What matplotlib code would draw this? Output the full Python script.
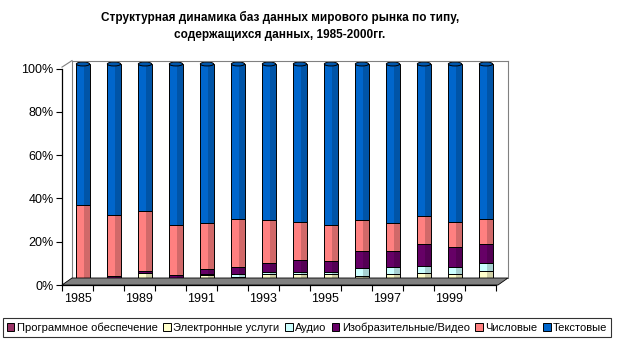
import matplotlib
matplotlib.use("Agg")
import matplotlib.pyplot as plt
from matplotlib.patches import Polygon, Ellipse, Patch
from matplotlib.lines import Line2D
import matplotlib.colors as mcolors
import numpy as np

plt.rcParams['font.family'] = ['Liberation Sans', 'DejaVu Sans']

years = ['1985', '1988', '1989', '1990', '1991', '1992', '1993', '1994',
         '1995', '1996', '1997', '1998', '1999', '2000']
series_names = ['Программное обеспечение', 'Электронные услуги', 'Аудио',
                'Изобразительные/Видео', 'Числовые', 'Текстовые']
prog = [0, 0.2, 0.2, 0.2, 0.9, 0.8, 0.2, 0.3, 1.0, 0.7, 0.8, 1.1, 0.4, 1.1]
elec = [0, 2.0, 4.3, 1.9, 2.4, 1.85, 3.7, 3.45, 2.9, 2.4, 2.95, 3.4, 3.35, 4.3]
audio = [0, 0, 0, 0, 0.7, 1.1, 1.0, 1.15, 1.0, 3.4, 3.25, 3.1, 3.25, 3.7]
video = [0, 0.8, 0.9, 1.2, 2.0, 3.45, 4.2, 5.4, 5.1, 7.9, 7.4, 10.0, 9.4, 8.5]
numeric = [35.6, 28.0, 27.5, 23.2, 21.2, 21.9, 19.7, 17.6, 16.2, 14.1, 12.8, 12.7, 11.1, 11.5]
text = [64.4, 69.0, 67.1, 73.5, 72.8, 70.9, 71.2, 72.1, 73.8, 71.5, 72.8, 69.7, 72.5, 70.9]
colors = ['#993366', '#FFFFCC', '#CCFFFF', '#660066', '#FF8080', '#0066CC']
yticks = [0, 20, 40, 60, 80, 100]
title = 'Структурная динамика баз данных мирового рынка по типу,\nсодержащихся данных, 1985-2000гг.'

W, H = 623, 347
fig = plt.figure(figsize=(W / 100, H / 100), dpi=100)

def fx(x):
    return x / W

def fy(y):
    return 1 - y / H

# geometry (pixels)
L, R = 62, 496
front_y, top_y = 285, 68.6
dx, dy = 10, 7

# floor and back wall
floor = Polygon([(fx(L), fy(front_y)), (fx(R + 2), fy(front_y)),
                 (fx(R + 2 + dx), fy(front_y - dy)), (fx(L + dx), fy(front_y - dy))],
                closed=True, transform=fig.transFigure, facecolor='#808080',
                edgecolor='black', linewidth=0.6, zorder=1)
fig.patches.append(floor)
wall_top = front_y - dy - (front_y - top_y) - 1
for (x0, y0, x1, y1, c) in [
        (L + dx, wall_top, R + 2 + dx, wall_top, '#808080'),
        (R + 2 + dx, wall_top, R + 2 + dx, front_y - dy, '#808080'),
        (L + dx, wall_top, L + dx, front_y - dy, '#808080'),
        (L, top_y - 1.5, L + dx, wall_top, '#808080')]:
    fig.lines.append(Line2D([fx(x0), fx(x1)], [fy(y0), fy(y1)],
                            transform=fig.transFigure, color=c, linewidth=0.8, zorder=1))

# main (front) axes for scales and labels
ax = fig.add_axes([fx(L), fy(front_y), (R - L) / W, (front_y - top_y) / H])
ax.set_facecolor('none')
n = len(years)
ax.set_xlim(-0.5, n - 0.5)
ax.set_ylim(0, 100)
for s in ['top', 'right']:
    ax.spines[s].set_visible(False)
ax.spines['left'].set_linewidth(0.9)
ax.spines['bottom'].set_linewidth(0.9)
ax.set_yticks(yticks)
ax.set_yticklabels([f'{v}%' for v in yticks], fontsize=9)
ax.tick_params(axis='y', length=4, width=0.8, pad=2)
ax.set_xticks(np.arange(0, n, 2))
ax.set_xticklabels(years[::2], fontsize=9)
ax.set_xticks(np.arange(-0.5, n, 1), minor=True)
ax.tick_params(axis='x', which='major', length=0, pad=6)
ax.tick_params(axis='x', which='minor', length=4, width=0.8)
ax.patch.set_visible(False)

# bars axes (mid-depth, slightly shifted)
bx = fig.add_axes([fx(L + 5.5), fy(282.5), (R - L) / W, 218.5 / H])
bx.set_xlim(-0.5, n - 0.5)
bx.set_ylim(0, 100)
bx.axis('off')
bx.patch.set_visible(False)

x = np.arange(n)
width = 0.43
data = [prog, elec, audio, video, numeric, text]
bottom = np.zeros(n)
for vals, col in zip(data, colors):
    vals = np.array(vals, dtype=float)
    dark = tuple(np.array(mcolors.to_rgb(col)) * 0.82)
    bx.bar(x, vals, width, bottom=bottom, color=col, edgecolor='none', zorder=2)
    bx.bar(x + width * 0.3, vals, width * 0.4, bottom=bottom, color=dark,
           edgecolor='none', zorder=2)
    bx.bar(x, vals, width, bottom=bottom, color='none', edgecolor='black',
           linewidth=0.7, zorder=3)
    bottom += vals

cap_h = 1.8
top_dark = tuple(np.array(mcolors.to_rgb(colors[-1])) * 0.85)
for xi, tot in zip(x, bottom):
    bx.add_patch(Ellipse((xi, tot), width, cap_h, facecolor=top_dark,
                         edgecolor='black', linewidth=0.7, zorder=4, clip_on=False))

fig.text(fx(280), fy(26), title, ha='center', va='center', fontsize=8.5,
         fontweight='bold', linespacing=1.45)

handles = [Patch(facecolor=c, edgecolor='black', linewidth=0.7) for c in colors]
leg = fig.legend(handles, series_names, loc='center', bbox_to_anchor=(fx(307), fy(327.5)),
                 ncol=6, fontsize=8, frameon=True, fancybox=False,
                 handlelength=0.7, handleheight=0.7, handletextpad=0.2,
                 columnspacing=0.5, borderpad=0.35, borderaxespad=0)
leg.get_frame().set_edgecolor('black')
leg.get_frame().set_linewidth(0.8)

fig.savefig('out.png', dpi=100)
